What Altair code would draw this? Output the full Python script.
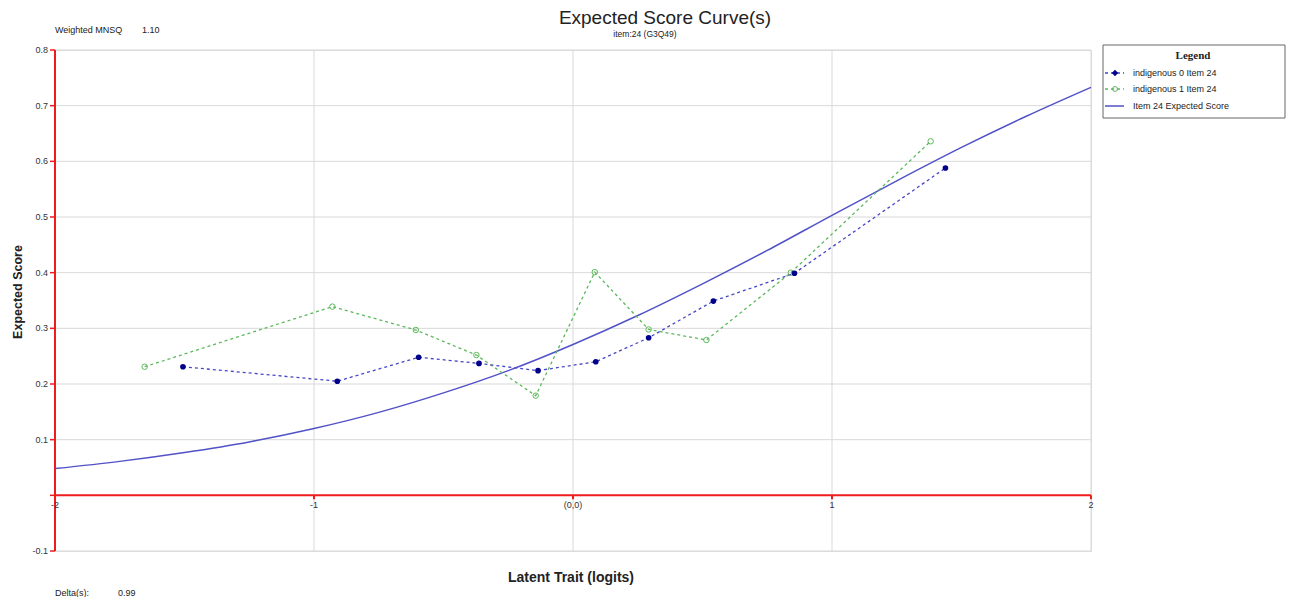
import altair as alt
import pandas as pd

# ---- data ----
theta0 = [-1.506, -0.910, -0.596, -0.363, -0.135, 0.088, 0.292, 0.542, 0.855, 1.438]
score0 = [0.231, 0.205, 0.248, 0.237, 0.224, 0.240, 0.283, 0.349, 0.399, 0.588]
theta1 = [-1.654, -0.929, -0.607, -0.373, -0.144, 0.084, 0.292, 0.515, 0.841, 1.381]
score1 = [0.231, 0.339, 0.297, 0.252, 0.179, 0.401, 0.298, 0.279, 0.400, 0.636]
curve_theta = [-2.0, -1.75, -1.5, -1.25, -1.0, -0.75, -0.5, -0.25, 0.0,
               0.25, 0.5, 0.75, 1.0, 1.25, 1.5, 1.75, 2.0]
curve_score = [0.048, 0.061, 0.077, 0.096, 0.120, 0.149, 0.184, 0.224, 0.271,
               0.323, 0.380, 0.440, 0.503, 0.565, 0.625, 0.681, 0.733]
x_ticks = [-2, -1, 0, 1, 2]
x_tick_labels = ["-2", "-1", "(0,0)", "1", "2"]
x_grid = [-1, 0, 1, 2]
y_ticks = [-0.1, 0.1, 0.2, 0.3, 0.4, 0.5, 0.6, 0.7, 0.8]
y_tick_labels = ["-0.1", "0.1", "0.2", "0.3", "0.4", "0.5", "0.6", "0.7", "0.8"]
y_red_ticks = [-0.1, 0.0, 0.1, 0.2, 0.3, 0.4, 0.5, 0.6, 0.7, 0.8]
y_grid = [-0.1, 0.1, 0.2, 0.3, 0.4, 0.5, 0.6, 0.7, 0.8]
series_names = ["indigenous 0 Item 24", "indigenous 1 Item 24", "Item 24 Expected Score"]

W, H = 1036, 501
FONT = "Liberation Sans"
RED = "#ee1c1c"
GRID = "#d9d9d9"
BLUE_LINE = "#4646c8"
BLUE_PT = "#00008b"
GREEN = "#5cb85c"
CURVE = "#5252c8"

xs = alt.Scale(domain=[-2, 2], nice=False, zero=False)
ys = alt.Scale(domain=[-0.1, 0.8], nice=False, zero=False)

def X(field):
    return alt.X(field, type="quantitative", scale=xs, axis=None)

def Y(field):
    return alt.Y(field, type="quantitative", scale=ys, axis=None)

def XD(v):
    return alt.XDatum(v, scale=xs, axis=None)

def YD(v):
    return alt.YDatum(v, scale=ys, axis=None)

one = pd.DataFrame({"a": [0]})
df0 = pd.DataFrame({"theta": theta0, "score": score0})
df1 = pd.DataFrame({"theta": theta1, "score": score1})
dfc = pd.DataFrame({"theta": curve_theta, "score": curve_score})
dfxt = pd.DataFrame({"v": x_ticks, "label": x_tick_labels})
dfxg = pd.DataFrame({"v": x_grid})
dfyt = pd.DataFrame({"v": y_ticks, "label": y_tick_labels})
dfyr = pd.DataFrame({"v": y_red_ticks})
dfyg = pd.DataFrame({"v": y_grid})

# grid
hgrid = alt.Chart(dfyg).mark_rule(color=GRID, strokeWidth=1).encode(
    y=Y("v"), x=XD(-2), x2=alt.X2Datum(2))
vgrid = alt.Chart(dfxg).mark_rule(color=GRID, strokeWidth=1).encode(
    x=X("v"), y=YD(-0.1), y2=alt.Y2Datum(0.8))

# red axes
red_v = alt.Chart(one).mark_rule(color=RED, strokeWidth=2).encode(
    x=XD(-2), y=YD(-0.1), y2=alt.Y2Datum(0.8))
red_h = alt.Chart(one).mark_rule(color=RED, strokeWidth=2).encode(
    y=YD(0), x=XD(-2), x2=alt.X2Datum(2))
red_xt = alt.Chart(dfxt).mark_rule(color=RED, strokeWidth=2, y2Offset=4).encode(
    x=X("v"), y=YD(0), y2=alt.Y2Datum(0))
red_yt = alt.Chart(dfyr).mark_rule(color=RED, strokeWidth=1.5, x2Offset=-5).encode(
    y=Y("v"), x=XD(-2), x2=alt.X2Datum(-2))

# tick labels
ylab = alt.Chart(dfyt).mark_text(align="right", baseline="middle", font=FONT,
                                 fontSize=9, color="#333333", dx=-7).encode(
    y=Y("v"), x=XD(-2), text="label:N")
xlab = alt.Chart(dfxt).mark_text(align="center", baseline="middle", font=FONT,
                                 fontSize=9, color="#333333", dy=10).encode(
    x=X("v"), y=YD(0), text="label:N")

# data series
curve = alt.Chart(dfc).mark_line(color=CURVE, strokeWidth=1.5, interpolate="monotone").encode(
    x=X("theta"), y=Y("score"))
line0 = alt.Chart(df0).mark_line(color=BLUE_LINE, strokeWidth=1.3, strokeDash=[3, 3]).encode(
    x=X("theta"), y=Y("score"))
pts0 = alt.Chart(df0).mark_point(filled=True, shape="circle", size=32, color=BLUE_PT, opacity=1).encode(
    x=X("theta"), y=Y("score"))
line1 = alt.Chart(df1).mark_line(color=GREEN, strokeWidth=1.3, strokeDash=[3, 3]).encode(
    x=X("theta"), y=Y("score"))
pts1 = alt.Chart(df1).mark_point(filled=False, shape="circle", size=30, color=GREEN,
                                 strokeWidth=1, opacity=1).encode(
    x=X("theta"), y=Y("score"))

# texts around
def txt(s, x, y, size=9, weight="normal", align="left", angle=0, font=FONT, color="#222222"):
    kw = dict(align=align, baseline="middle", font=font, fontSize=size,
              fontWeight=weight, color=color)
    if angle:
        kw["angle"] = angle
    return alt.Chart(one).mark_text(**kw).encode(
        x=alt.value(x), y=alt.value(y), text=alt.value(s))

title = txt("Expected Score Curve(s)", 610, -32, size=19, align="center")
subtitle = txt("item:24 (G3Q49)", 590, -16, size=8.5, align="center")
mnsq1 = txt("Weighted MNSQ", 0, -20, size=9)
mnsq2 = txt("1.10", 87, -20, size=9)
delta1 = txt("Delta(s):", 0, 543, size=9)
delta2 = txt("0.99", 63, 543, size=9)
xtitle = txt("Latent Trait (logits)", 516, 528, size=14, weight="bold", align="center")
ytitle = txt("Expected Score", -37, 242, size=12.5, weight="bold", align="center", angle=270)

# legend (manual)
lbox = alt.Chart(one).mark_rect(fill="white", stroke="#666666", strokeWidth=1).encode(
    x=alt.value(1048), x2=alt.value(1230), y=alt.value(-5), y2=alt.value(68))
ltitle = txt("Legend", 1138, 6, size=11, weight="bold", align="center",
             font="Liberation Serif")
l0line = alt.Chart(one).mark_rule(color=BLUE_LINE, strokeWidth=1.3, strokeDash=[3, 3]).encode(
    x=alt.value(1050), x2=alt.value(1069), y=alt.value(23))
l0pt = alt.Chart(one).mark_point(filled=True, shape="diamond", size=40, color=BLUE_PT, opacity=1).encode(
    x=alt.value(1060), y=alt.value(23))
l1line = alt.Chart(one).mark_rule(color=GREEN, strokeWidth=1.3, strokeDash=[3, 3]).encode(
    x=alt.value(1050), x2=alt.value(1069), y=alt.value(39))
l1pt = alt.Chart(one).mark_point(filled=False, shape="circle", size=24, color=GREEN,
                                 strokeWidth=1, opacity=1).encode(
    x=alt.value(1060), y=alt.value(39))
l2line = alt.Chart(one).mark_rule(color=CURVE, strokeWidth=1.5).encode(
    x=alt.value(1050), x2=alt.value(1069), y=alt.value(56))
lt0 = txt(series_names[0], 1078, 23, size=9)
lt1 = txt(series_names[1], 1078, 39, size=9)
lt2 = txt(series_names[2], 1078, 56, size=9)

chart = alt.layer(
    hgrid, vgrid, red_v, red_h, red_xt, red_yt, ylab, xlab,
    curve, line1, line0, pts1, pts0,
    title, subtitle, mnsq1, mnsq2, delta1, delta2, xtitle, ytitle,
    lbox, ltitle, l0line, l0pt, l1line, l1pt, l2line, lt0, lt1, lt2,
).properties(
    width=W, height=H,
    autosize=alt.AutoSizeParams(type="none"),
    padding={"left": 47, "top": 42, "right": 195, "bottom": 46},
).configure_view(stroke=None).configure(background="white")

chart.save("out.html", embed_options={"renderer": "svg", "actions": False})
